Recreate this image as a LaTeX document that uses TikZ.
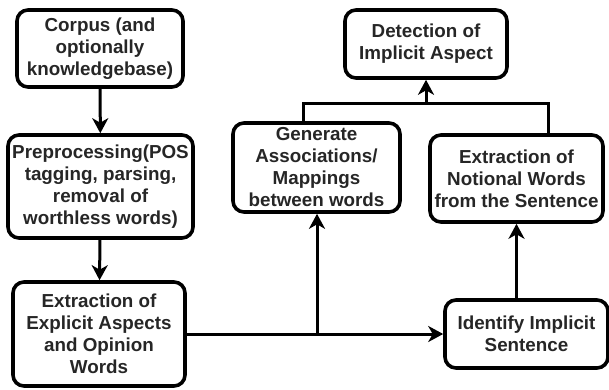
\documentclass[tikz,border=0pt]{standalone}
\usepackage{fontspec}
\setmainfont{Liberation Sans}
\usetikzlibrary{arrows.meta}
\begin{document}
\begin{tikzpicture}[x=1pt,y=-1pt,
  box/.style={draw=black,line width=3.6pt,rounded corners=11pt,fill=white,
    align=center,inner sep=0pt,font=\fontsize{18.8}{22}\selectfont\bfseries,text=black!85},
  conn/.style={line width=3pt},
  arr/.style={conn,-{Stealth[length=15pt,width=16pt,inset=4.5pt]}}]
\useasboundingbox (0,0) rectangle (609,389);
\node[box,minimum width=166pt,minimum height=77pt] (corpus) at (100,48.5) {Corpus (and\\optionally\\knowledgebase)};
\node[box,minimum width=185pt,minimum height=103pt] (prep) at (100.5,186.5) {Preprocessing(POS\\tagging, parsing,\\removal of\\worthless words)};
\node[box,minimum width=172pt,minimum height=104pt] (expl) at (99,334) {Extraction of\\Explicit Aspects\\and Opinion\\Words};
\node[box,minimum width=163pt,minimum height=68pt] (ident) at (526.5,334) {Identify Implicit\\Sentence};
\node[box,minimum width=173pt,minimum height=87pt] (notion) at (516.5,178.5) {Extraction of\\Notional Words\\from the Sentence};
\node[box,minimum width=167pt,minimum height=89pt] (gen) at (316.5,167.5) {Generate\\Associations/\\Mappings\\between words};
\node[box,minimum width=162pt,minimum height=68pt] (det) at (426,44) {Detection of\\Implicit Aspect};
\coordinate (jl) at (303,103);
\coordinate (jr) at (548,103);
\coordinate (jm) at (426,103);
\coordinate (split) at (317,335);
\draw[arr] (corpus) -- (prep);
\draw[arr] (prep) -- (expl);
\draw[arr] (expl.east) -- (ident.west);
\draw[arr] (split) -- (gen.south -| split);
\draw[arr] (ident.north -| notion.south) -- (notion.south);
\draw[conn] (gen.north -| jl) -- (jl) -- (jr) -- (notion.north -| jr);
\draw[arr] (jm) -- (det.south);
\end{tikzpicture}
\end{document}
